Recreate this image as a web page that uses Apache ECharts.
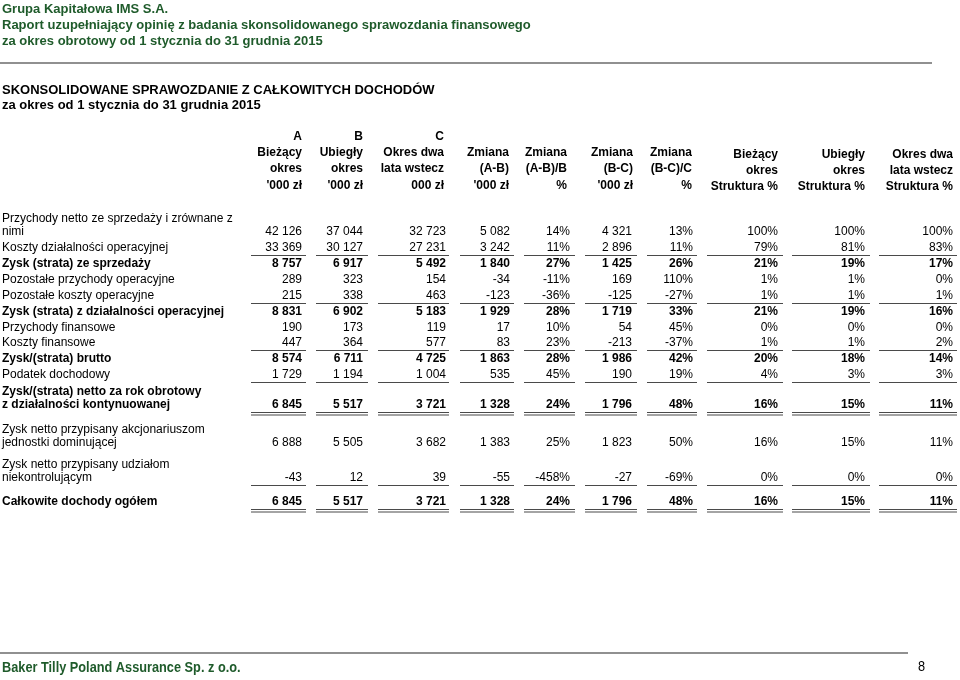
<!DOCTYPE html>
<html><head><meta charset="utf-8">
<script src="https://cdn.jsdelivr.net/npm/echarts@6/dist/echarts.min.js"></script>
<style>html,body{margin:0;padding:0;background:#fff}#c{width:960px;height:680px}</style>
</head><body><div id="c"></div>
<script>
// ---------- DATA ----------
const rowLabels = [
  'Przychody netto ze sprzedaży i zrównane z\nnimi',
  'Koszty działalności operacyjnej',
  'Zysk (strata) ze sprzedaży',
  'Pozostałe przychody operacyjne',
  'Pozostałe koszty operacyjne',
  'Zysk (strata) z działalności operacyjnej',
  'Przychody finansowe',
  'Koszty finansowe',
  'Zysk/(strata) brutto',
  'Podatek dochodowy',
  'Zysk/(strata) netto za rok obrotowy\nz działalności kontynuowanej',
  'Zysk netto przypisany akcjonariuszom\njednostki dominującej',
  'Zysk netto przypisany udziałom\nniekontrolującym',
  'Całkowite dochody ogółem'
];
const boldRows = [2, 5, 8, 10, 13];
const singleUnderlineRows = [1, 4, 7, 9, 12];
const doubleUnderlineRows = [10, 13];

const colA     = [42126, 33369, 8757, 289, 215, 8831, 190, 447, 8574, 1729, 6845, 6888, -43, 6845];
const colB     = [37044, 30127, 6917, 323, 338, 6902, 173, 364, 6711, 1194, 5517, 5505, 12, 5517];
const colC     = [32723, 27231, 5492, 154, 463, 5183, 119, 577, 4725, 1004, 3721, 3682, 39, 3721];
const chgAB    = [5082, 3242, 1840, -34, -123, 1929, 17, 83, 1863, 535, 1328, 1383, -55, 1328];
const chgABpct = [14, 11, 27, -11, -36, 28, 10, 23, 28, 45, 24, 25, -458, 24];
const chgBC    = [4321, 2896, 1425, 169, -125, 1719, 54, -213, 1986, 190, 1796, 1823, -27, 1796];
const chgBCpct = [13, 11, 26, 110, -27, 33, 45, -37, 42, 19, 48, 50, -69, 48];
const structA  = [100, 79, 21, 1, 1, 21, 0, 1, 20, 4, 16, 16, 0, 16];
const structB  = [100, 81, 19, 1, 1, 19, 0, 1, 18, 3, 15, 15, 0, 15];
const structC  = [100, 83, 17, 0, 1, 16, 0, 2, 14, 3, 11, 11, 0, 11];

const headerTop = ['A', 'B', 'C'];
const headers = [
  ['Bieżący', 'okres', "'000 zł"],
  ['Ubiegły', 'okres', "'000 zł"],
  ['Okres dwa', 'lata wstecz', '000 zł'],
  ['Zmiana', '(A-B)', "'000 zł"],
  ['Zmiana', '(A-B)/B', '%'],
  ['Zmiana', '(B-C)', "'000 zł"],
  ['Zmiana', '(B-C)/C', '%'],
  ['Bieżący', 'okres', 'Struktura %'],
  ['Ubiegły', 'okres', 'Struktura %'],
  ['Okres dwa', 'lata wstecz', 'Struktura %']
];
const columns = [colA, colB, colC, chgAB, chgABpct, chgBC, chgBCpct, structA, structB, structC];
const isPct = [false, false, false, false, true, false, true, true, true, true];

const titleLines = [
  'Grupa Kapitałowa IMS S.A.',
  'Raport uzupełniający opinię z badania skonsolidowanego sprawozdania finansowego',
  'za okres obrotowy od 1 stycznia do 31 grudnia 2015'
];
const subTitleLines = [
  'SKONSOLIDOWANE SPRAWOZDANIE Z CAŁKOWITYCH DOCHODÓW',
  'za okres od 1 stycznia do 31 grudnia 2015'
];
const footerText = 'Baker Tilly Poland Assurance Sp. z o.o.';
const pageNumber = '8';

// ---------- LAYOUT ----------
const colRight = [302, 363, 446, 510, 570, 632, 693, 778, 865, 953];
const segStart = [251, 316, 378, 460, 524, 585, 647, 707, 792, 879];
const segEnd   = [306, 368, 449, 514, 575, 637, 697, 783, 870, 957];
const hdrRight = [302, 363, 444, 509, 567, 633, 692, 778, 865, 953];
const rowY = [232, 248, 264, 280, 296, 312, 327.5, 343, 359, 375, 405, 443, 478, 502];
const labelLineH = 13;
const hdrYTop = 137;
const hdrY = [[153, 169, 186], [155, 171, 187]];
const FONT = '"Liberation Sans", Arial, sans-serif';
const FS = 12;
const GREEN = '#1f5b2b';

function fmt(v, pct) {
  const s = Math.abs(v).toString().replace(/\B(?=(\d{3})+(?!\d))/g, ' ');
  return (v < 0 ? '-' : '') + s + (pct ? '%' : '');
}

// cell data: [x, y, col, row]
const cellData = [];
for (let r = 0; r < rowLabels.length; r++) {
  for (let c = 0; c < columns.length; c++) {
    cellData.push([colRight[c], rowY[r], c, r]);
  }
}
const labelData = rowLabels.map((l, r) => [2, rowY[r], r]);
const headerData = [];
for (let c = 0; c < headers.length; c++) {
  const yy = c < 7 ? hdrY[0] : hdrY[1];
  headers[c].forEach((t, i) => headerData.push([hdrRight[c], yy[i], c, i, 0]));
  if (c < 3) headerData.push([hdrRight[c], hdrYTop, c, -1, 1]);
}
const lineData = [];
singleUnderlineRows.forEach(r => {
  for (let c = 0; c < columns.length; c++) lineData.push([segStart[c], rowY[r] + 7.5, segEnd[c], rowY[r] + 7.5]);
});
doubleUnderlineRows.forEach(r => {
  for (let c = 0; c < columns.length; c++) {
    lineData.push([segStart[c], rowY[r] + 7.5, segEnd[c], rowY[r] + 7.5]);
    lineData.push([segStart[c], rowY[r] + 10, segEnd[c], rowY[r] + 10]);
  }
});

const chart = echarts.init(document.getElementById('c'), null, { renderer: 'canvas' });
const textStyle = (text, bold, align, fill) => ({
  text, fill: fill || '#000', align, verticalAlign: 'middle',
  fontSize: FS, fontWeight: bold ? 'bold' : 'normal', fontFamily: FONT
});

chart.setOption({
  animation: false,
  backgroundColor: '#fff',
  grid: { left: 0, right: 0, top: 0, bottom: 0 },
  xAxis: { type: 'value', min: 0, max: 960, show: false },
  yAxis: { type: 'value', min: 0, max: 680, inverse: true, show: false },
  series: [
    {
      type: 'custom', data: cellData, clip: false,
      renderItem: (params, api) => {
        const p = api.coord([api.value(0), api.value(1)]);
        const c = api.value(2), r = api.value(3);
        return { type: 'text', x: p[0], y: p[1],
          style: textStyle(fmt(columns[c][r], isPct[c]), boldRows.includes(r), 'right') };
      }
    },
    {
      type: 'custom', data: labelData, clip: false,
      renderItem: (params, api) => {
        const p = api.coord([api.value(0), api.value(1)]);
        const r = api.value(2);
        const lines = rowLabels[r].split('\n');
        return { type: 'group', children: lines.map((t, i) => ({
          type: 'text', x: p[0], y: p[1] - (lines.length - 1 - i) * labelLineH,
          style: textStyle(t, boldRows.includes(r), 'left') })) };
      }
    },
    {
      type: 'custom', data: headerData, clip: false,
      renderItem: (params, api) => {
        const p = api.coord([api.value(0), api.value(1)]);
        const c = api.value(2), i = api.value(3), top = api.value(4);
        const t = top ? headerTop[c] : headers[c][i];
        return { type: 'text', x: p[0], y: p[1], style: textStyle(t, true, 'right') };
      }
    },
    {
      type: 'custom', data: lineData, clip: false,
      renderItem: (params, api) => {
        const a = api.coord([api.value(0), api.value(1)]);
        const b = api.coord([api.value(2), api.value(3)]);
        return { type: 'line', shape: { x1: a[0], y1: a[1], x2: b[0], y2: b[1] },
          style: { stroke: '#4a4a4a', lineWidth: 1.2 } };
      }
    }
  ],
  graphic: [
    ...titleLines.map((t, i) => ({ type: 'text', left: 2, top: [3, 19, 35][i],
      style: { text: t, fill: GREEN, fontSize: 13, fontWeight: 'bold', fontFamily: FONT } })),
    { type: 'rect', shape: { x: 0, y: 62, width: 932, height: 2 }, style: { fill: '#909090' } },
    ...subTitleLines.map((t, i) => ({ type: 'text', left: 2, top: [84, 99][i],
      style: { text: t, fill: '#000', fontSize: 13, fontWeight: 'bold', fontFamily: FONT } })),
    { type: 'rect', shape: { x: 0, y: 652, width: 908, height: 2 }, style: { fill: '#909090' } },
    { type: 'text', x: 2, y: 660, scaleX: 0.85, style: { text: footerText, fill: GREEN, fontSize: 15, fontWeight: 'bold',
      fontFamily: FONT } },
    { type: 'text', x: 918, y: 659, scaleX: 0.85, style: { text: pageNumber, fill: '#000', fontSize: 15,
      fontFamily: FONT } }
  ]
});
</script>
</body></html>
